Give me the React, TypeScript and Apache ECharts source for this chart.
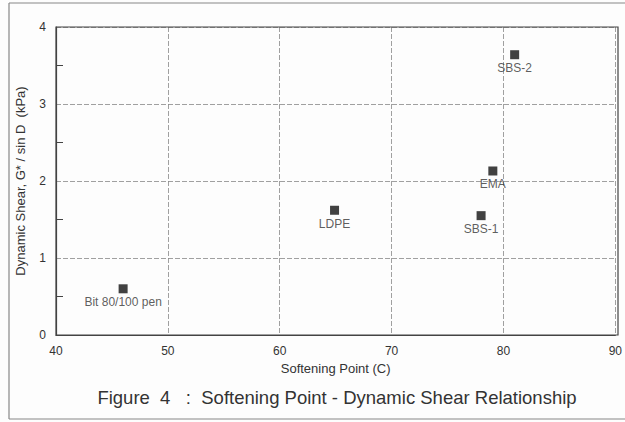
import React, { useEffect, useRef } from "react";
import * as echarts from "echarts";

const names = ["Bit 80/100 pen", "LDPE", "SBS-1", "EMA", "SBS-2"];
const softeningPoint = [46, 64.9, 78, 79.05, 81];
const dynamicShear = [0.6, 1.62, 1.55, 2.13, 3.64];
const xTicks = [40, 50, 60, 70, 80, 90];
const yTicks = [0, 1, 2, 3, 4];

export default function App() {
  const ref = useRef<HTMLDivElement>(null);
  useEffect(() => {
    if (!ref.current) return;
    const chart = echarts.init(ref.current, undefined, { renderer: "svg" });
    const font = "Liberation Sans, Arial, sans-serif";
    chart.setOption({
      animation: false,
      backgroundColor: "#fdfdfd",
      grid: { left: 56, right: 7, top: 27, bottom: 87 },
      xAxis: {
        type: "value",
        min: xTicks[0],
        max: xTicks[xTicks.length - 1],
        interval: 10,
        name: "Softening Point (C)",
        nameLocation: "middle",
        nameGap: 27,
        nameTextStyle: { color: "#333", fontSize: 13, fontFamily: font },
        axisLine: { show: true, lineStyle: { color: "#444", width: 1.2 } },
        axisTick: { show: false },
        axisLabel: { color: "#333", fontSize: 12, fontFamily: font, margin: 10 },
        splitLine: { show: true, lineStyle: { color: "#888", width: 0.8, type: [5, 2] } },
      },
      yAxis: {
        type: "value",
        min: yTicks[0],
        max: yTicks[yTicks.length - 1],
        interval: 1,
        name: "Dynamic Shear, G* / sin D  (kPa)",
        nameLocation: "middle",
        nameGap: 29,
        nameTextStyle: { color: "#333", fontSize: 13, fontFamily: font },
        axisLine: { show: true, lineStyle: { color: "#444", width: 1.2 } },
        axisTick: { show: false, inside: true },
        minorTick: { show: true, splitNumber: 2, length: 7, lineStyle: { color: "#444", width: 1 } },
        axisLabel: { color: "#333", fontSize: 12, fontFamily: font, margin: 10 },
        splitLine: { show: true, lineStyle: { color: "#888", width: 0.8, type: [5, 2] } },
      },
      graphic: [
        {
          type: "rect",
          shape: { x: 56, y: 27, width: 562, height: 308 },
          style: { fill: "none", stroke: "#444", lineWidth: 1.2 },
          silent: true,
          z: 10,
        },
        { type: "line", shape: { x1: 9, y1: 3, x2: 625, y2: 3 }, style: { stroke: "#888", lineWidth: 1.2 } },
        { type: "line", shape: { x1: 9, y1: 3, x2: 9, y2: 419 }, style: { stroke: "#888", lineWidth: 1.2 } },
        { type: "line", shape: { x1: 9, y1: 419, x2: 625, y2: 419 }, style: { stroke: "#888", lineWidth: 1.2 } },
        {
          type: "text",
          x: 337,
          y: 397,
          style: {
            text: "Figure  4   :  Softening Point - Dynamic Shear Relationship",
            fontSize: 18.5,
            fontFamily: font,
            fill: "#333",
            align: "center",
            verticalAlign: "middle",
          },
        },
      ],
      series: [
        {
          type: "scatter",
          symbol: "rect",
          symbolSize: 9,
          itemStyle: { color: "#111" },
          label: {
            show: true,
            position: "bottom",
            distance: 3,
            formatter: (p: any) => p.data[2],
            color: "#333",
            fontSize: 12,
            fontFamily: font,
          },
          data: softeningPoint.map((x, i) => [x, dynamicShear[i], names[i]]),
        },
      ],
    });
    return () => chart.dispose();
  }, []);
  return (
    <div
      ref={ref}
      style={{ position: "fixed", left: 0, top: 0, width: 625, height: 422 }}
    />
  );
}
